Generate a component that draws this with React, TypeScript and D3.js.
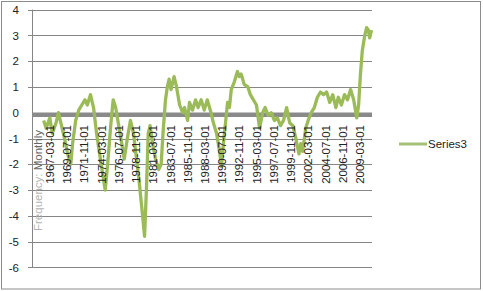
import React from "react";
import * as d3 from "d3";

const seriesName = "Series3";
const axisNote = ["Frequency: ", "Monthly"];

const dates: string[] = [
  "1966-05","1966-09","1967-03","1967-07","1968-01","1968-05","1968-10","1969-03","1969-08","1970-01",
  "1970-04","1970-09","1971-02","1971-07","1971-12","1972-04","1972-09","1973-02","1973-07","1973-12",
  "1974-05","1974-09","1975-01","1975-06","1975-10","1976-02","1976-07","1976-12","1977-04","1977-09",
  "1978-02","1978-07","1978-12","1979-04","1979-09","1980-01","1980-04","1980-07","1980-10","1981-02",
  "1981-07","1981-12","1982-04","1982-07","1982-11","1983-02","1983-05","1983-08","1984-01","1984-05",
  "1984-10","1985-03","1985-06","1985-11","1986-02","1986-07","1986-12","1987-04","1987-09","1988-02",
  "1988-07","1989-01","1989-05","1989-10","1990-03","1990-06","1990-10","1991-01","1991-04","1991-07",
  "1991-10","1992-03","1992-08","1992-11","1993-02","1993-07","1994-01","1994-05","1994-10","1995-03",
  "1995-08","1996-01","1996-05","1996-10","1997-03","1997-08","1998-01","1998-06","1998-11","1999-04",
  "1999-09","2000-02","2000-07","2000-12","2001-03","2001-06","2001-11","2002-03","2002-08","2003-01",
  "2003-06","2003-11","2004-04","2004-09","2005-02","2005-07","2005-12","2006-04","2006-09","2007-02",
  "2007-07","2007-12","2008-05","2008-10","2009-01","2009-04","2009-07","2009-11","2010-02","2010-05",
  "2010-07","2010-10"
];

const values: number[] = [
  -0.3,-0.6,-0.2,-0.8,-0.4,0.0,-0.5,-1.0,-1.6,-2.0,
  -1.2,-0.3,0.1,0.3,0.5,0.3,0.7,0.2,-0.8,-1.6,
  -2.4,-3.0,-2.0,-0.5,0.5,0.2,-0.5,-1.2,-1.8,-1.0,
  -0.3,-0.8,-1.8,-2.6,-3.8,-4.8,-3.0,-0.8,-0.5,-1.2,
  -1.8,-2.2,-2.0,-0.8,0.5,1.0,1.3,0.9,1.4,1.0,
  0.3,0.0,0.2,-0.3,0.4,0.1,0.5,0.2,0.5,0.1,
  0.5,0.0,-0.4,-0.8,-1.5,-2.1,-1.0,-0.3,0.4,0.2,
  0.9,1.2,1.6,1.4,1.5,1.1,1.0,0.7,0.5,0.3,
  -0.6,0.0,0.2,-0.1,0.0,-0.3,-0.2,-0.5,-0.3,0.2,
  -0.4,-0.5,-1.0,-1.6,-1.2,-1.5,-0.6,-0.3,0.0,0.2,
  0.6,0.8,0.7,0.8,0.4,0.7,0.2,0.6,0.3,0.7,
  0.5,0.9,0.5,-0.2,0.3,1.5,2.4,3.0,3.3,3.2,
  2.9,3.2
];

const tickLabels: string[] = [
  "1967-03-01","1969-07-01","1971-11-01","1974-03-01","1976-07-01","1978-11-01","1981-03-01",
  "1983-07-01","1985-11-01","1988-03-01","1990-07-01","1992-11-01","1995-03-01","1997-07-01",
  "1999-11-01","2002-03-01","2004-07-01","2006-11-01","2009-03-01"
];

const yTicks: number[] = [4, 3, 2, 1, 0, -1, -2, -3, -4, -5, -6];

const W = 483;
const H = 291;
const plotL = 32;
const plotR = 372;
const parse = d3.timeParse("%Y-%m");
const parseFull = d3.timeParse("%Y-%m-%d");

export default function App() {
  const x = d3
    .scaleTime()
    .domain([new Date(1964, 9, 1), new Date(2010, 9, 25)])
    .range([plotL, plotR]);
  const y = d3.scaleLinear().domain([-6, 4]).range([267.4, 9.6]);

  const pts = dates.map((d, i) => [x(parse(d) as Date), y(values[i])] as [number, number]);
  const line = d3.line<[number, number]>().x((p) => p[0]).y((p) => p[1]);

  const font = "'Liberation Sans', Arial, sans-serif";
  const green = "#9BBB59";

  return (
    <svg
      width={W}
      height={H}
      style={{ position: "absolute", left: 0, top: 0, background: "#fff" }}
    >
      <rect x={1.5} y={1.5} width={479} height={287.5} fill="#fff" stroke="#8c8c8c" strokeWidth={1} />
      {yTicks.map((t) => (
        <g key={t}>
          {t !== 0 && (
            <line x1={28} x2={plotR} y1={Math.round(y(t)) + 0.5} y2={Math.round(y(t)) + 0.5} stroke="#868686" strokeWidth={1} />
          )}
          <text
            x={19}
            y={y(t)}
            dy="0.36em"
            textAnchor="end"
            fontFamily={font}
            fontSize={11.5}
            fill="#222"
          >
            {t}
          </text>
        </g>
      ))}
      <line x1={plotL + 0.5} x2={plotL + 0.5} y1={y(4)} y2={y(-6)} stroke="#868686" strokeWidth={1} />
      <line x1={plotL} x2={plotR} y1={y(0) + 2} y2={y(0) + 2} stroke="#8a8a8a" strokeWidth={4.5} />
      <path d={line(pts) || ""} fill="none" stroke={green} strokeWidth={3.3} strokeLinejoin="round" />
      {tickLabels.map((t) => {
        const xx = x(parseFull(t) as Date);
        return (
          <text
            key={t}
            transform={`translate(${xx},125) rotate(-90)`}
            dy="0.36em"
            textAnchor="end"
            fontFamily={font}
            fontSize={11.5}
            fill="#222"
          >
            {t}
          </text>
        );
      })}
      <text
        transform={`translate(37.5,130) rotate(-90)`}
        dy="0.36em"
        textAnchor="end"
        fontFamily={font}
        fontSize={11.5}
      >
        <tspan fill="#b4b4b4">{axisNote[0]}</tspan>
        <tspan fill="#666">{axisNote[1]}</tspan>
      </text>
      <line x1={399} x2={427} y1={144} y2={144} stroke="#A6C078" strokeWidth={3} />
      <text x={428} y={144} dy="0.36em" fontFamily={font} fontSize={11.5} fill="#222">
        {seriesName}
      </text>
    </svg>
  );
}
